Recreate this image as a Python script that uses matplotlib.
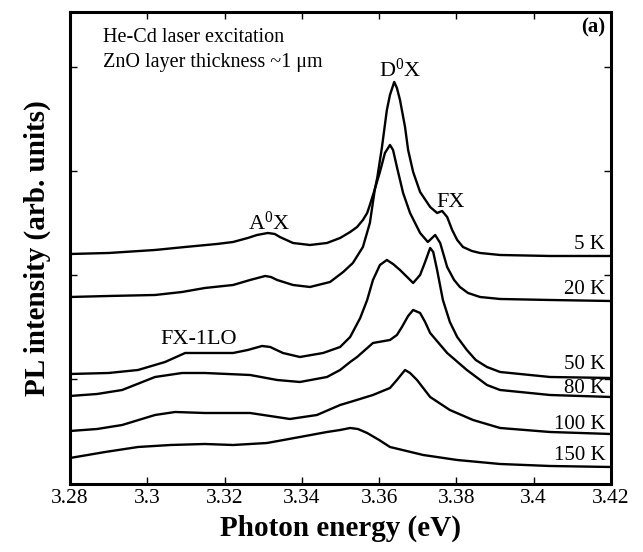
import matplotlib
matplotlib.use("Agg")
import matplotlib.pyplot as plt

plt.rcParams['font.family'] = ['Liberation Serif', 'DejaVu Serif']
plt.rcParams['mathtext.fontset'] = 'custom'
plt.rcParams['mathtext.rm'] = 'Liberation Serif'
plt.rcParams['mathtext.it'] = 'Liberation Serif:italic'
plt.rcParams['mathtext.bf'] = 'Liberation Serif:bold'

# PL spectra (photon energy in eV, intensity in arb. units, offset)
e_5k = [3.2800, 3.2900, 3.3020, 3.3098, 3.3180, 3.3222, 3.3260, 3.3284, 3.3312, 3.3330,
        3.3343, 3.3360, 3.3377, 3.3421, 3.3465, 3.3499, 3.3525, 3.3543, 3.3558, 3.3569,
        3.3576, 3.3589, 3.3595, 3.3607, 3.3620, 3.3628, 3.3639, 3.3646, 3.3654, 3.3667,
        3.3675, 3.3688, 3.3706, 3.3732, 3.3750, 3.3763, 3.3776, 3.3789, 3.3802, 3.3817,
        3.3840, 3.3861, 3.3913, 3.4042, 3.4200]
i_5k = [230, 231, 234, 237, 240, 242, 246, 249, 251, 250,
        247, 244, 241, 239, 241, 246, 252, 257, 264, 271,
        279, 295, 306, 336, 374, 389, 402, 396, 384, 357,
        334, 312, 292, 277, 271, 273, 267, 254, 244, 237,
        233, 231, 229, 228, 228]

e_20k = [3.2800, 3.2900, 3.3020, 3.3090, 3.3149, 3.3222, 3.3266, 3.3305, 3.3320, 3.3336,
         3.3377, 3.3421, 3.3473, 3.3507, 3.3532, 3.3558, 3.3576, 3.3589, 3.3602, 3.3615,
         3.3628, 3.3636, 3.3646, 3.3662, 3.3680, 3.3706, 3.3726, 3.3745, 3.3758, 3.3776,
         3.3794, 3.3809, 3.3830, 3.3861, 3.3913, 3.4042, 3.4200]
i_20k = [187, 188, 189, 192, 196, 199, 204, 208, 207, 204,
         199, 197, 202, 212, 221, 237, 261, 295, 312, 331,
         339, 334, 317, 291, 271, 251, 242, 249, 241, 217,
         204, 197, 191, 187, 185, 184, 183]

e_50k = [3.2800, 3.2900, 3.2976, 3.3046, 3.3098, 3.3136, 3.3222, 3.3260, 3.3297, 3.3318,
         3.3351, 3.3395, 3.3455, 3.3499, 3.3525, 3.3551, 3.3569, 3.3584, 3.3602, 3.3620,
         3.3636, 3.3654, 3.3675, 3.3688, 3.3706, 3.3719, 3.3732, 3.3740, 3.3750, 3.3765,
         3.3783, 3.3802, 3.3827, 3.3850, 3.3879, 3.3913, 3.4042, 3.4200]
i_50k = [110, 111, 114, 122, 131, 131, 131, 134, 138, 137,
         131, 127, 131, 137, 147, 166, 184, 204, 219, 224,
         220, 214, 206, 201, 209, 222, 236, 232, 214, 184,
         162, 147, 134, 124, 117, 112, 107, 106]

e_80k = [3.2800, 3.2870, 3.2935, 3.3020, 3.3090, 3.3149, 3.3266, 3.3336, 3.3395, 3.3465,
         3.3499, 3.3525, 3.3543, 3.3584, 3.3628, 3.3646, 3.3659, 3.3675, 3.3688, 3.3706,
         3.3719, 3.3732, 3.3776, 3.3827, 3.3879, 3.3913, 3.4042, 3.4200]
i_80k = [88, 90, 94, 107, 111, 111, 109, 104, 102, 107,
         114, 122, 127, 141, 144, 149, 157, 168, 174, 171,
         162, 151, 131, 114, 99, 94, 89, 87]

e_100k = [3.2800, 3.2870, 3.2935, 3.3020, 3.3072, 3.3149, 3.3266, 3.3369, 3.3439, 3.3499,
          3.3525, 3.3584, 3.3628, 3.3646, 3.3667, 3.3680, 3.3698, 3.3732, 3.3783, 3.3843,
          3.3913, 3.4042, 3.4200]
i_100k = [53, 55, 59, 69, 72, 71, 71, 65, 69, 79,
          82, 89, 96, 104, 114, 111, 104, 87, 74, 64,
          56, 52, 50]

e_150k = [3.2800, 3.2891, 3.2976, 3.3060, 3.3149, 3.3222, 3.3310, 3.3395, 3.3465, 3.3499,
          3.3525, 3.3545, 3.3569, 3.3600, 3.3628, 3.3714, 3.3802, 3.3913, 3.4042, 3.4200]
i_150k = [26, 32, 37, 39, 40, 39, 41, 47, 52, 54,
          56, 55, 51, 44, 37, 29, 24, 20, 18, 17]

energies = [e_5k, e_20k, e_50k, e_80k, e_100k, e_150k]
intensities = [i_5k, i_20k, i_50k, i_80k, i_100k, i_150k]
temp_labels = ['5 K', '20 K', '50 K', '80 K', '100 K', '150 K']
label_heights = [239, 194, 119, 95, 59, 28]

fig = plt.figure(figsize=(6.43, 5.52), dpi=100)
ax = fig.add_axes([0.1089, 0.1232, 0.8413, 0.8551])

for e, i in zip(energies, intensities):
    ax.plot(e, i, color='black', lw=1.7)

# temperature labels at the right end of each spectrum
for lab, h in zip(temp_labels, label_heights):
    ax.text(3.4185, h, lab, ha='right', va='center', fontsize=15)

# peak assignments
ax.text(3.3654, 414, r'D$^{0}$X', ha='center', va='center', fontsize=16)
ax.text(3.3315, 261, r'A$^{0}$X', ha='center', va='center', fontsize=16)
ax.text(3.3786, 281, 'FX', ha='center', va='center', fontsize=16)
ax.text(3.3134, 144, 'FX-1LO', ha='center', va='center', fontsize=16)

ax.text(3.2885, 446, 'He-Cd laser excitation', ha='left', va='center', fontsize=14.5)
ax.text(3.2885, 421, 'ZnO layer thickness ~1 \u03bcm', ha='left', va='center', fontsize=14.5)
ax.text(3.4185, 456, '(a)', ha='right', va='center', fontsize=15, fontweight='bold')

ax.set_xlim(3.28, 3.42)
ax.set_ylim(0, 472)
ax.set_xticks([3.28, 3.30, 3.32, 3.34, 3.36, 3.38, 3.40, 3.42])
ax.set_xticklabels(['3.28', '3.3', '3.32', '3.34', '3.36', '3.38', '3.4', '3.42'])
ax.set_yticks([105, 209, 313, 417])
ax.set_yticklabels([])
ax.tick_params(direction='in', top=True, right=True, length=5, width=1, labelsize=15.5)
for sp in ax.spines.values():
    sp.set_linewidth(2.2)

ax.set_xlabel('Photon energy (eV)', fontsize=21, fontweight='bold', labelpad=5)
ax.set_ylabel('PL intensity (arb. units)', fontsize=21, fontweight='bold', labelpad=10)

fig.savefig('out.png', dpi=100)
